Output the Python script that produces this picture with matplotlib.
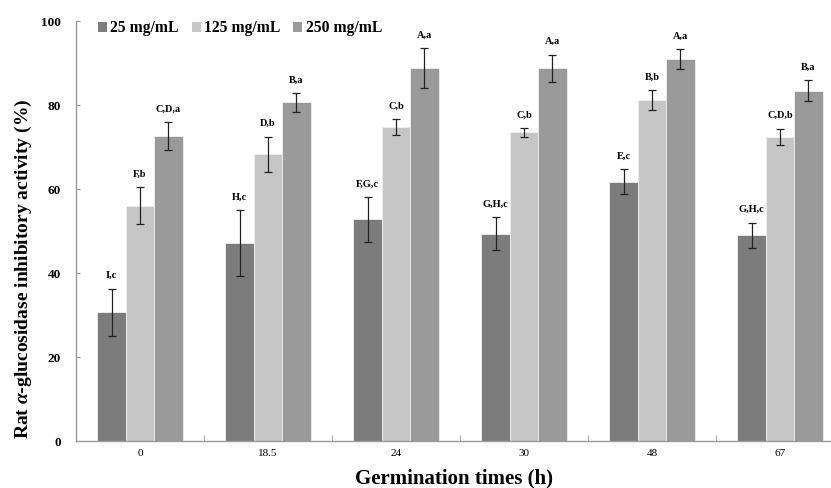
import matplotlib
matplotlib.use("Agg")
import matplotlib.pyplot as plt
import numpy as np

times = ["0", "18.5", "24", "30", "48", "67"]
series_names = ["25 mg/mL", "125 mg/mL", "250 mg/mL"]
v25 = [30.6, 47.2, 52.8, 49.4, 61.7, 49.0]
v125 = [56.0, 68.3, 74.8, 73.5, 81.2, 72.4]
v250 = [72.6, 80.6, 88.8, 88.7, 91.0, 83.4]
e25 = [5.7, 7.8, 5.3, 4.0, 3.0, 3.0]
e125 = [4.4, 4.2, 1.85, 1.1, 2.35, 2.0]
e250 = [3.4, 2.3, 4.75, 3.3, 2.4, 2.55]
lab25 = ["I,c", "H,c", "F,G,c", "G,H,c", "E,c", "G,H,c"]
lab125 = ["F,b", "D,b", "C,b", "C,b", "B,b", "C,D,b"]
lab250 = ["C,D,a", "B,a", "A,a", "A,a", "A,a", "B,a"]
colors = ["#7c7c7c", "#c5c6c5", "#999a99"]

plt.rcParams['font.family'] = ['Liberation Serif', 'DejaVu Serif']
plt.rcParams['mathtext.fontset'] = 'custom'
plt.rcParams['mathtext.rm'] = 'Liberation Serif'
plt.rcParams['mathtext.it'] = 'Liberation Serif:italic'
plt.rcParams['mathtext.bf'] = 'Liberation Serif:bold'
plt.rcParams['mathtext.bfit'] = 'Liberation Serif:italic:bold'

fig = plt.figure(figsize=(8.31, 4.88), dpi=100)
W, H = 831, 488
left, right, top, bottom = 76, 831, 21, 441
ax = fig.add_axes([left / W, (H - bottom) / H, (right - left) / W, (bottom - top) / H])

group_px = 128.0
xmax = (right - left) / group_px - 0.5
x = np.arange(len(times))
bw = 28.4 / group_px

vals = [v25, v125, v250]
errs = [e25, e125, e250]
labs = [lab25, lab125, lab250]
for i in range(3):
    xs = x + (i - 1) * bw
    ax.bar(xs, vals[i], width=bw, color=colors[i], edgecolor="#f0f0f0", linewidth=0.6,
           label=series_names[i], zorder=2)
    ax.errorbar(xs, vals[i], yerr=errs[i], fmt="none", ecolor="#222222", elinewidth=0.9,
                capsize=3, capthick=0.9, zorder=3)
    for xx, v, e, t in zip(xs, vals[i], errs[i], labs[i]):
        ax.annotate(t, (xx, v + e), xytext=(0, 6), textcoords="offset points",
                    ha="center", va="bottom", fontsize=7.5, fontweight="bold")

ax.set_xlim(-0.5, xmax)
ax.set_ylim(0, 100)
ax.set_yticks([0, 20, 40, 60, 80, 100])
ax.set_yticklabels(["0", "20", "40", "60", "80", "100"], fontsize=9.5, fontweight="bold")
ax.tick_params(axis="y", direction="in", length=3, color="#999999", pad=11)
ax.set_xticks(x)
ax.set_xticklabels(times, fontsize=8)
ax.tick_params(axis="x", length=0, pad=6)
ax.set_xticks(np.arange(0.5, len(times) - 0.5, 1.0), minor=True)
ax.tick_params(axis="x", which="minor", direction="in", length=4, color="#999999")

for s in ["top", "right"]:
    ax.spines[s].set_visible(False)
for s in ["left", "bottom"]:
    ax.spines[s].set_color("#999999")
    ax.spines[s].set_linewidth(1.0)

ax.set_xlabel("Germination times (h)", fontsize=15, fontweight="bold")
ax.xaxis.set_label_coords(0.501, -0.066)
ax.set_ylabel(r"Rat $\mathbfit{\alpha}$-glucosidase inhibitory activity (%)", fontsize=14,
              fontweight="bold")
ax.yaxis.set_label_coords(-0.055, 0.41)

leg = ax.legend(loc="upper left", bbox_to_anchor=(0.0103, 1.035), ncol=3, frameon=False,
                prop={"size": 11.3, "weight": "bold"}, handlelength=0.6, handleheight=0.6,
                handletextpad=0.2, columnspacing=0.8)
for p in leg.get_patches():
    p.set_edgecolor("none")

fig.savefig("out.png", dpi=100)
